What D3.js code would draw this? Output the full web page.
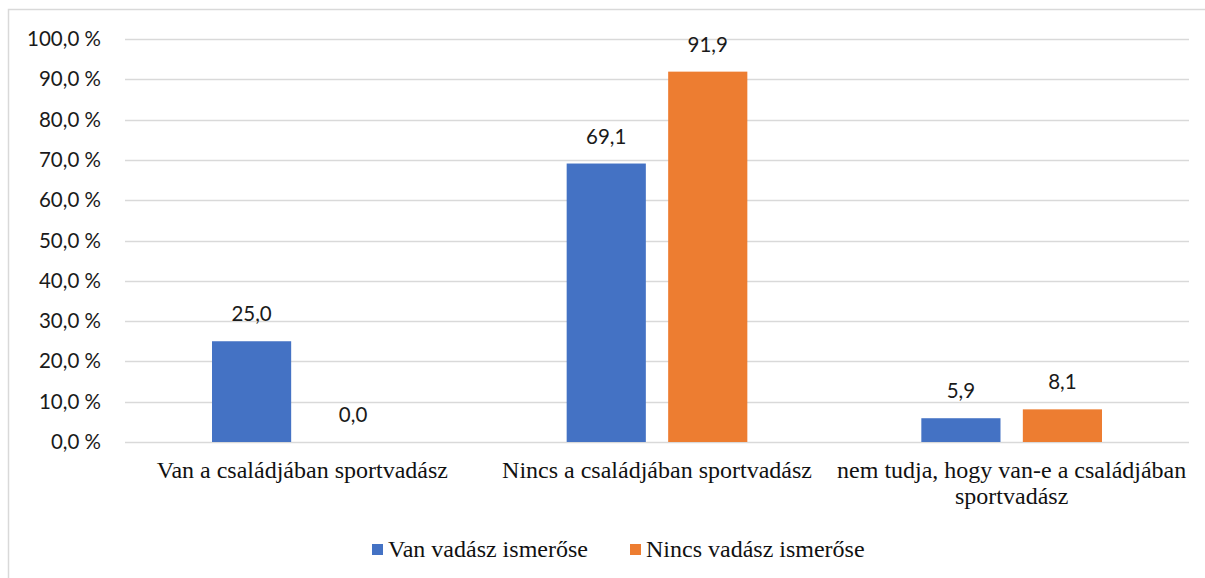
<!DOCTYPE html>
<html>
<head>
<meta charset="utf-8">
<script src="https://cdn.jsdelivr.net/npm/d3@7"></script>
<style>
  body { margin: 0; background: #fff; }
</style>
</head>
<body>
<div class="chart"></div>
<script>
// Data
var categories = [
    ["Van a családjában sportvadász"],
    ["Nincs a családjában sportvadász"],
    ["nem tudja, hogy van-e a családjában", "sportvadász"]
];
var seriesNames = ["Van vadász ismerőse", "Nincs vadász ismerőse"];
var seriesColors = ["#4472C4", "#ED7D31"];
var vanValues = [25.0, 69.1, 5.9];
var nincsValues = [0.0, 91.9, 8.1];
var yTicks = [0, 10, 20, 30, 40, 50, 60, 70, 80, 90, 100];

var svgWidth = 1205;
var svgHeight = 578;
var margin = { top: 39, bottom: 136, left: 125, right: 16 };
var width = svgWidth - margin.left - margin.right;
var height = svgHeight - margin.top - margin.bottom;

var svg = d3.select(".chart")
            .append("svg")
            .attr("width", svgWidth)
            .attr("height", svgHeight);

// outer border
svg.append("rect")
   .attr("x", 8.5).attr("y", 9.5)
   .attr("width", svgWidth).attr("height", svgHeight)
   .attr("fill", "none")
   .attr("stroke", "#d9d9d9")
   .attr("stroke-width", 1.5);

var chartGroup = svg.append("g")
                    .attr("transform", `translate(${margin.left}, ${margin.top})`);

var xScale = d3.scaleBand()
               .domain(d3.range(categories.length))
               .range([0, width]);
var x1 = d3.scaleBand()
           .domain([0, 1])
           .range([87, xScale.bandwidth() - 87])
           .paddingInner(0.22);
var yScale = d3.scaleLinear()
               .domain([0, 100])
               .range([height, 0]);

var numFont = "Lato, 'Open Sans', sans-serif";
var serifFont = "'Liberation Serif', 'Times New Roman', serif";

// gridlines
chartGroup.append("g")
          .selectAll("line")
          .data(yTicks)
          .enter()
          .append("line")
          .attr("x1", 0)
          .attr("x2", width)
          .attr("y1", d => Math.round(yScale(d)) + 0.5)
          .attr("y2", d => Math.round(yScale(d)) + 0.5)
          .attr("stroke", "#d9d9d9")
          .attr("stroke-width", 1.5);

// y axis
var leftAxis = d3.axisLeft(yScale)
                 .tickValues(yTicks)
                 .tickSize(0)
                 .tickPadding(24)
                 .tickFormat(d => d.toFixed(1).replace(".", ",") + " %");
var yAxis = chartGroup.append("g").call(leftAxis);
yAxis.select(".domain").remove();
yAxis.selectAll("text")
     .attr("font-family", numFont)
     .attr("font-size", 20.5)
     .attr("fill", "#1a1a1a");

// bars
var series = [vanValues, nincsValues];
series.forEach(function(values, s) {
    var g = chartGroup.append("g");
    g.selectAll("rect")
     .data(values)
     .enter()
     .append("rect")
     .attr("x", (d, i) => xScale(i) + x1(s))
     .attr("y", d => yScale(d))
     .attr("width", x1.bandwidth())
     .attr("height", d => height - yScale(d))
     .attr("fill", seriesColors[s]);
    g.selectAll("text")
     .data(values)
     .enter()
     .append("text")
     .attr("x", (d, i) => xScale(i) + x1(s) + x1.bandwidth() / 2)
     .attr("y", d => yScale(d) - 20)
     .attr("text-anchor", "middle")
     .attr("font-family", numFont)
     .attr("font-size", 20.5)
     .attr("fill", "#1a1a1a")
     .text(d => d.toFixed(1).replace(".", ","));
});

// category labels
var catGroup = chartGroup.append("g")
                         .attr("transform", `translate(0, ${height})`);
categories.forEach(function(lines, i) {
    var t = catGroup.append("text")
                    .attr("x", xScale(i) + xScale.bandwidth() / 2)
                    .attr("y", 36)
                    .attr("text-anchor", "middle")
                    .attr("font-family", serifFont)
                    .attr("font-size", 24)
                    .attr("fill", "#111");
    lines.forEach(function(line, j) {
        t.append("tspan")
         .attr("x", xScale(i) + xScale.bandwidth() / 2)
         .attr("dy", j === 0 ? 0 : 26)
         .text(line);
    });
});

// legend
var legendX = [372, 630];
seriesNames.forEach(function(name, s) {
    var lg = svg.append("g")
                .attr("transform", `translate(${legendX[s]}, 550)`);
    lg.append("rect")
      .attr("x", 0).attr("y", -6)
      .attr("width", 11).attr("height", 11)
      .attr("fill", seriesColors[s]);
    lg.append("text")
      .attr("x", 16)
      .attr("y", 7)
      .attr("font-family", serifFont)
      .attr("font-size", 24)
      .attr("fill", "#111")
      .text(name);
});
</script>
</body>
</html>
